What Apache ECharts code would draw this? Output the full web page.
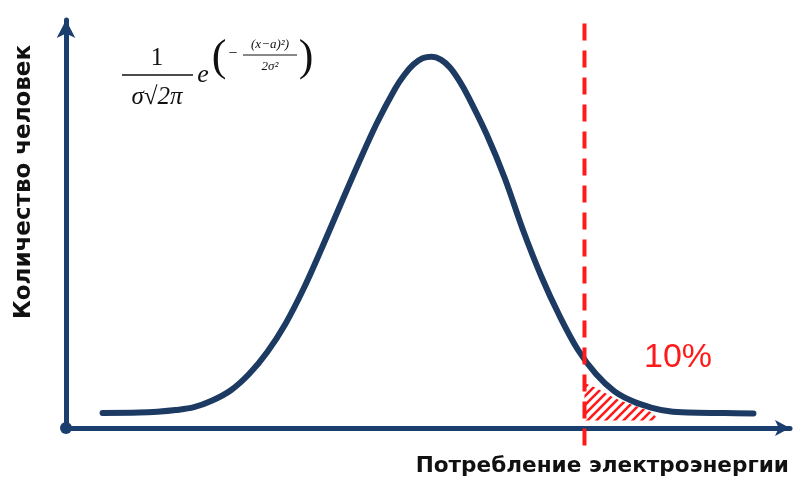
<!DOCTYPE html>
<html>
<head>
<meta charset="utf-8">
<script src="https://cdn.jsdelivr.net/npm/echarts@6/dist/echarts.min.js"></script>
<style>
  html, body { margin: 0; padding: 0; background: #fff; }
  #main { width: 801px; height: 481px; }
</style>
</head>
<body>
<div id="main"></div>
<script>
// bell curve (x: 0..99, y: 0..98)
var curveX = [5, 10, 12.5, 15, 17.5, 20, 22.5, 25, 27.5, 30, 32.5, 35, 37.5, 40, 42.5, 45, 46.25, 47.5, 48.75, 50,
  51.25, 52.5, 53.75, 55, 57.5, 60, 62.5, 65, 67.5, 70, 72.5, 75, 77.5, 80, 82.5, 85, 90, 94];
var curveY = [3.6, 3.7, 3.9, 4.3, 5.0, 6.6, 9.0, 12.9, 18.2, 25.0, 33.5, 43.3, 53.5, 63.6, 73.2, 81.5, 84.8, 87.3, 88.8, 89.2,
  88.5, 86.6, 83.5, 79.6, 70.6, 60.0, 47.5, 36.4, 26.9, 18.8, 12.9, 8.8, 6.4, 4.9, 4.0, 3.7, 3.6, 3.5];

// top edge of the hatched part beyond the threshold
var tailX = [70.9, 72.5, 75, 77.5, 80, 80.8];
var tailY = [10.8, 9.6, 7.2, 5.5, 3.8, 2.4];

var threshold = 70.9;
var shareLabel = '10%';
var xName = 'Потребление электроэнергии';
var yName = 'Количество человек';

var navy = '#1c3a62';
var axisNavy = '#1a3e6e';
var red = '#ff1a1a';

function pairs(xs, ys) {
  return xs.map(function (x, i) { return [x, ys[i]]; });
}

// diagonal hatch pattern
var pat = document.createElement('canvas');
pat.width = 9; pat.height = 9;
var ctx = pat.getContext('2d');
ctx.strokeStyle = red;
ctx.lineWidth = 2.6;
ctx.beginPath();
ctx.moveTo(-2, 11); ctx.lineTo(11, -2);
ctx.moveTo(-2, 2); ctx.lineTo(2, -2);
ctx.moveTo(7, 11); ctx.lineTo(11, 7);
ctx.stroke();

var chart = echarts.init(document.getElementById('main'));

var option = {
  animation: false,
  grid: { left: 66, right: 11, top: 20, bottom: 53 },
  xAxis: {
    type: 'value', min: 0, max: 99,
    axisLine: {
      onZero: false,
      symbol: ['circle', 'arrow'], symbolSize: [12, 15],
      lineStyle: { color: axisNavy, width: 5 }
    },
    axisTick: { show: false }, axisLabel: { show: false }, splitLine: { show: false }
  },
  yAxis: {
    type: 'value', min: 0, max: 98,
    axisLine: {
      onZero: false,
      symbol: ['none', 'arrow'], symbolSize: [14, 18],
      lineStyle: { color: axisNavy, width: 5 }
    },
    axisTick: { show: false }, axisLabel: { show: false }, splitLine: { show: false }
  },
  series: [
    {
      type: 'line',
      data: pairs(tailX, tailY),
      smooth: 0.35,
      showSymbol: false,
      lineStyle: { width: 0 },
      areaStyle: { origin: 1.8, opacity: 1, color: { image: pat, repeat: 'repeat' } },
      z: 1
    },
    {
      type: 'line',
      data: pairs(curveX, curveY),
      smooth: 0.35,
      showSymbol: false,
      lineStyle: { color: navy, width: 6, cap: 'round' },
      z: 3
    },
    {
      type: 'line',
      data: [[threshold, -4.2], [threshold, 99.3]],
      clip: false,
      showSymbol: false,
      lineStyle: { color: red, width: 4, type: [17, 10] },
      z: 4
    }
  ],
  graphic: [
    {
      type: 'text', x: 24, y: 182, rotation: Math.PI / 2,
      style: {
        text: yName, fill: '#111', font: 'bold 23px "DejaVu Sans", sans-serif',
        align: 'center', verticalAlign: 'middle'
      }
    },
    {
      type: 'text', x: 789, y: 466,
      style: {
        text: xName, fill: '#111', font: 'bold 21.6px "DejaVu Sans", sans-serif',
        align: 'right', verticalAlign: 'middle'
      }
    },
    {
      type: 'text', x: 678, y: 358,
      style: {
        text: shareLabel, fill: red, font: '34px "Liberation Sans", Arial',
        align: 'center', verticalAlign: 'middle'
      }
    },
    // formula
    {
      type: 'group',
      children: [
        { type: 'text', x: 157, y: 58, style: { text: '1', fill: '#111', font: '25px "Liberation Serif", serif', align: 'center', verticalAlign: 'middle' } },
        { type: 'line', shape: { x1: 122, y1: 75, x2: 193, y2: 75 }, style: { stroke: '#111', lineWidth: 1.5 } },
        { type: 'text', x: 157, y: 97, style: { text: 'σ√2π', fill: '#111', font: 'italic 25px "Liberation Serif", serif', align: 'center', verticalAlign: 'middle' } },
        { type: 'text', x: 203, y: 75, style: { text: 'e', fill: '#111', font: 'italic 26px "Liberation Serif", serif', align: 'center', verticalAlign: 'middle' } },
        { type: 'text', x: 219, y: 58, style: { text: '(', fill: '#111', font: '44px "Liberation Serif", serif', align: 'center', verticalAlign: 'middle' } },
        { type: 'text', x: 233, y: 54, style: { text: '−', fill: '#111', font: '16px "Liberation Serif", serif', align: 'center', verticalAlign: 'middle' } },
        { type: 'text', x: 270, y: 45, style: { text: '(x−a)²)', fill: '#111', font: 'italic 13px "Liberation Serif", serif', align: 'center', verticalAlign: 'middle' } },
        { type: 'line', shape: { x1: 243, y1: 55, x2: 297, y2: 55 }, style: { stroke: '#111', lineWidth: 1 } },
        { type: 'text', x: 270, y: 67, style: { text: '2σ²', fill: '#111', font: 'italic 13px "Liberation Serif", serif', align: 'center', verticalAlign: 'middle' } },
        { type: 'text', x: 306, y: 58, style: { text: ')', fill: '#111', font: '44px "Liberation Serif", serif', align: 'center', verticalAlign: 'middle' } }
      ]
    }
  ]
};

chart.setOption(option);
</script>
</body>
</html>
